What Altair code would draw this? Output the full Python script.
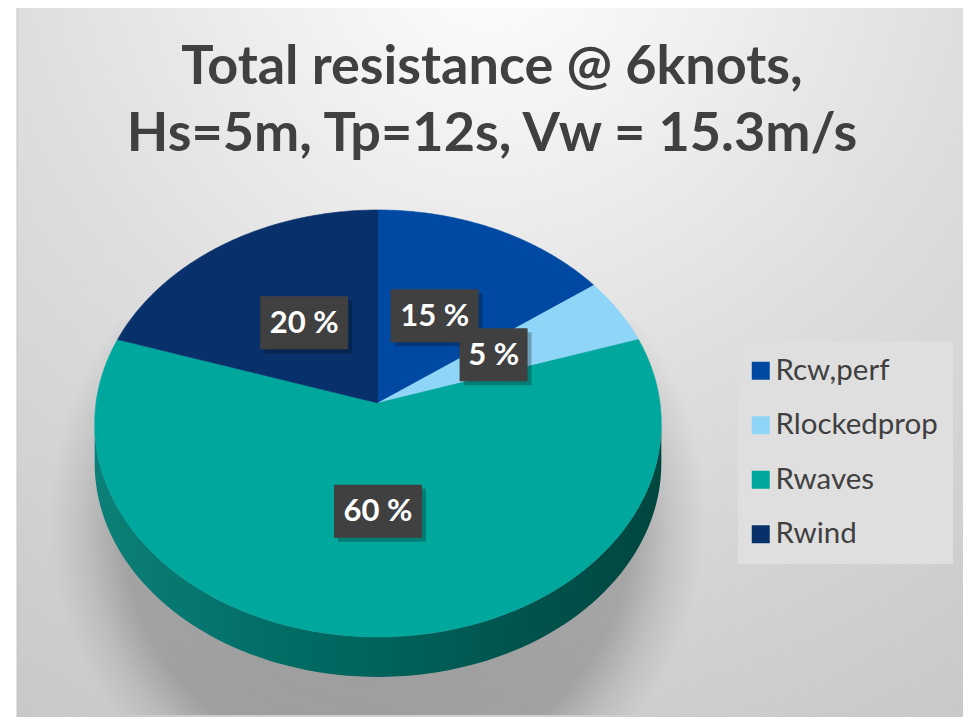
import altair as alt
import pandas as pd

# ---------------- data ----------------
CATEGORIES = ["Rcw,perf", "Rlockedprop", "Rwaves", "Rwind"]
VALUES = [15, 5, 60, 20]
LABELS = ["15 %", "5 %", "60 %", "20 %"]
COLORS = ["#0049A3", "#8ED5F7", "#00A79D", "#08306B"]
TITLE_LINES = ["Total resistance @ 6knots,", "Hs=5m, Tp=12s, Vw = 15.3m/s"]

# ---------------- layout (view pixels) ----------------
W, H = 955, 709
CX, CY = 370, 395          # pie apex
RX, RY, K = 282, 211.5, 0.0958   # ellipse radii and perspective factor
DEPTH = 40
N = 90
F = 0.48                   # label radius fraction
LDY = -4                   # label vertical nudge

df = pd.DataFrame({"category": CATEGORIES, "value": VALUES,
                   "label": LABELS, "idx": list(range(len(CATEGORIES)))})
tdf = pd.DataFrame({"line": TITLE_LINES, "row": list(range(len(TITLE_LINES)))})

xs = alt.Scale(domain=[0, W], nice=False, zero=False)
ys = alt.Scale(domain=[0, H], nice=False, zero=False, reverse=True)


def projx(t, f=1.0):
    return f"{CX} + {f}*{RX}*sin({t})/(1+{K}*cos({t}))"


def projy(t, f=1.0):
    return f"{CY} - {f}*{RY}*cos({t})/(1+{K}*cos({t}))"


def slice_base():
    return (alt.Chart(df)
            .transform_joinaggregate(total="sum(value)")
            .transform_window(cum="sum(value)", sort=[alt.SortField("idx")], frame=[None, 0])
            .transform_calculate(
                a0="2*PI*(datum.cum - datum.value)/datum.total",
                a1="2*PI*datum.cum/datum.total")
            .transform_calculate(mid="(datum.a0 + datum.a1)/2"))


color_scale = alt.Scale(domain=CATEGORIES, range=COLORS)

# background frame with radial gradient
bg = alt.Chart(alt.Data(values=[{}])).mark_rect(
    color=alt.RadialGradient(
        gradient="radial", x1=0.5, y1=0.05, r1=0, x2=0.5, y2=0.05, r2=1.0,
        stops=[alt.GradientStop(color="#ffffff", offset=0),
               alt.GradientStop(color="#f2f2f2", offset=0.2),
               alt.GradientStop(color="#dedede", offset=0.5),
               alt.GradientStop(color="#cfcfcf", offset=0.8),
               alt.GradientStop(color="#c6c6c6", offset=1)]),
    stroke="#c4c4c4", strokeWidth=1
).encode(x=alt.value(9), x2=alt.value(W + 10), y=alt.value(-1), y2=alt.value(H + 10))

# soft shadow beneath the pie
shadow = alt.Chart(alt.Data(values=[{}])).mark_rect(
    color=alt.RadialGradient(
        gradient="radial", x1=0.5, y1=0.5, r1=0, x2=0.5, y2=0.5, r2=0.5,
        stops=[alt.GradientStop(color="rgba(0,0,0,0.26)", offset=0),
               alt.GradientStop(color="rgba(0,0,0,0.22)", offset=0.78),
               alt.GradientStop(color="rgba(0,0,0,0.08)", offset=0.9),
               alt.GradientStop(color="rgba(0,0,0,0)", offset=1)])
).encode(x=alt.value(CX - 328), x2=alt.value(CX + 327),
         y=alt.value(CY - 83), y2=alt.value(CY + 312))

# side wall of the 3D pie (front half)
side = (alt.Chart(alt.sequence(0, N + 1, as_="j"))
        .transform_calculate(t=f"acos(-{K}) + (2*PI - 2*acos(-{K}))*datum.j/{N}")
        .transform_calculate(sx=projx("datum.t"), sy=projy("datum.t"))
        .transform_calculate(sy2=f"datum.sy + {DEPTH}")
        .mark_area(
            interpolate="linear",
            color=alt.LinearGradient(
                gradient="linear", x1=0, y1=0, x2=1, y2=0,
                stops=[alt.GradientStop(color="#0C8078", offset=0),
                       alt.GradientStop(color="#006C64", offset=0.35),
                       alt.GradientStop(color="#005750", offset=0.7),
                       alt.GradientStop(color="#00463F", offset=1)]))
        .encode(x=alt.X("sx:Q", scale=xs, axis=None),
                y=alt.Y("sy:Q", scale=ys, axis=None),
                y2="sy2:Q"))

# top face slices
slices = (slice_base()
          .transform_calculate(pts=f"sequence(-1, {N + 1})")
          .transform_flatten(["pts"], as_=["i"])
          .transform_calculate(t=f"datum.a0 + (datum.a1 - datum.a0)*max(datum.i, 0)/{N}")
          .transform_calculate(
              px=f"datum.i < 0 ? {CX} : " + projx("datum.t"),
              py=f"datum.i < 0 ? {CY} : " + projy("datum.t"))
          .mark_line(strokeWidth=0.6, interpolate="linear")
          .encode(
              x=alt.X("px:Q", scale=xs, axis=None),
              y=alt.Y("py:Q", scale=ys, axis=None),
              order=alt.Order("i:Q"),
              detail="category:N",
              fill=alt.Fill("category:N", scale=color_scale,
                            legend=alt.Legend(
                                title=None, orient="none", direction="vertical",
                                legendX=730, legendY=333,
                                symbolType="square", symbolSize=324,
                                symbolStrokeWidth=0, symbolOffset=-7,
                                labelFontSize=29.5,
                                labelFont="Lato", labelColor="#404040",
                                rowPadding=23.5, padding=15, labelOffset=0,
                                fillColor="#dfdfdf", labelLimit=400)),
              stroke=alt.Stroke("category:N", scale=color_scale, legend=None)))

lab = (slice_base()
       .transform_calculate(lx=projx("datum.mid", F),
                            ly=projy("datum.mid", F) + f" + ({LDY})")
       .transform_calculate(hw="(20*length(datum.label) + 8)/2"))

box_shadow = (lab.transform_calculate(
    bx1="datum.lx - datum.hw + 4", bx2="datum.lx + datum.hw + 4",
    by1="datum.ly - 26.5 + 4", by2="datum.ly + 26.5 + 4")
    .mark_rect(color="rgba(0,0,0,0.25)")
    .encode(x=alt.X("bx1:Q", scale=xs, axis=None), x2="bx2:Q",
            y=alt.Y("by1:Q", scale=ys, axis=None), y2="by2:Q"))

box = (lab.transform_calculate(
    bx1="datum.lx - datum.hw", bx2="datum.lx + datum.hw",
    by1="datum.ly - 26.5", by2="datum.ly + 26.5")
    .mark_rect(color="#404040")
    .encode(x=alt.X("bx1:Q", scale=xs, axis=None), x2="bx2:Q",
            y=alt.Y("by1:Q", scale=ys, axis=None), y2="by2:Q"))

btext = (lab.mark_text(font="Lato", fontSize=31, fontWeight="bold", color="white",
                       align="center", baseline="middle", dy=1)
         .encode(x=alt.X("lx:Q", scale=xs, axis=None),
                 y=alt.Y("ly:Q", scale=ys, axis=None),
                 text="label:N"))

title = (alt.Chart(tdf)
         .transform_calculate(ty="76 + 67*datum.row")
         .mark_text(font="Lato", fontSize=54, fontWeight="bold", color="#404040",
                    align="center", baseline="alphabetic")
         .encode(x=alt.value(484), y=alt.Y("ty:Q", scale=ys, axis=None), text="line:N"))

chart = (alt.layer(bg, shadow, side, slices, box_shadow, box, btext, title)
         .properties(width=W, height=H, padding=0, autosize="none", background="white")
         .configure_view(strokeWidth=0))

chart.save("out.html", embed_options={"renderer": "svg", "actions": False})
